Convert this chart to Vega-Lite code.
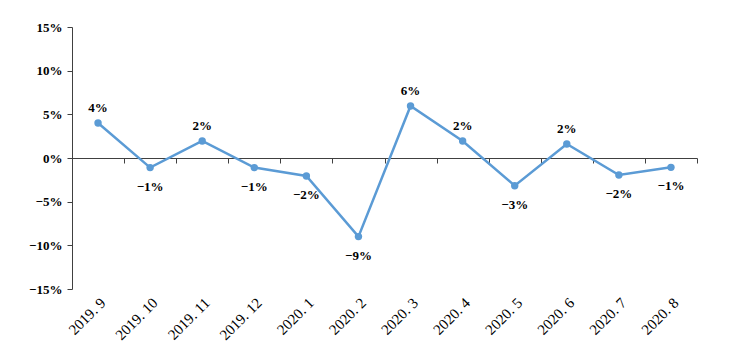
{
  "$schema": "https://vega.github.io/schema/vega-lite/v6.json",
  "width": 625,
  "height": 262,
  "autosize": {"type": "none"},
  "padding": {"left": 72, "top": 27, "right": 51, "bottom": 68},
  "background": "white",
  "config": {"view": {"stroke": null}},
  "data": {"values": [
    {"month": "2019.9", "v": 0.040},
    {"month": "2019.10", "v": -0.011},
    {"month": "2019.11", "v": 0.0195},
    {"month": "2019.12", "v": -0.011},
    {"month": "2020.1", "v": -0.0206},
    {"month": "2020.2", "v": -0.090},
    {"month": "2020.3", "v": 0.0596},
    {"month": "2020.4", "v": 0.0195},
    {"month": "2020.5", "v": -0.0317},
    {"month": "2020.6", "v": 0.016},
    {"month": "2020.7", "v": -0.0195},
    {"month": "2020.8", "v": -0.0107}
  ]},
  "resolve": {"axis": {"x": "independent"}},
  "layer": [
    {
      "mark": {"type": "line", "color": "#5B9BD5", "strokeWidth": 2.5},
      "encoding": {
        "x": {"field": "month", "type": "nominal", "sort": null,
          "scale": {"paddingInner": 0, "paddingOuter": 0},
          "axis": {"orient": "bottom", "offset": -131, "labels": false, "title": null,
            "domain": true, "domainColor": "#404040", "domainWidth": 1.2,
            "ticks": true, "tickBand": "extent", "tickColor": "#404040", "tickSize": 5, "grid": false}},
        "y": {"field": "v", "type": "quantitative",
          "scale": {"domain": [-0.15, 0.15], "nice": false, "zero": false},
          "axis": {"values": [-0.15, -0.1, -0.05, 0, 0.05, 0.1, 0.15], "format": ".0%", "title": null,
            "grid": false, "domainColor": "#404040", "tickColor": "#404040", "tickSize": 5,
            "labelFont": "Liberation Serif", "labelFontWeight": "bold", "labelFontSize": 13,
            "labelColor": "#000000", "labelPadding": 5}}
      }
    },
    {
      "mark": {"type": "point", "filled": true, "color": "#5B9BD5", "size": 55, "opacity": 1},
      "encoding": {
        "x": {"field": "month", "type": "nominal", "sort": null,
          "axis": {"orient": "bottom", "labelAngle": -45, "title": null, "domain": false, "ticks": false,
            "grid": false, "labelFont": "Liberation Serif", "labelFontSize": 15, "labelColor": "#000000",
            "labelPadding": 6, "labelExpr": "replace(datum.label, '.', '. ')"}},
        "y": {"field": "v", "type": "quantitative"}
      }
    },
    {
      "transform": [{"filter": "datum.v >= 0"}],
      "mark": {"type": "text", "font": "Liberation Serif", "fontWeight": "bold", "fontSize": 13, "dy": -15, "color": "#000000"},
      "encoding": {
        "x": {"field": "month", "type": "nominal", "sort": null, "axis": null},
        "y": {"field": "v", "type": "quantitative"},
        "text": {"field": "v", "type": "quantitative", "format": ".0%"}
      }
    },
    {
      "transform": [{"filter": "datum.v < 0"}],
      "mark": {"type": "text", "font": "Liberation Serif", "fontWeight": "bold", "fontSize": 13, "dy": 19, "color": "#000000"},
      "encoding": {
        "x": {"field": "month", "type": "nominal", "sort": null, "axis": null},
        "y": {"field": "v", "type": "quantitative"},
        "text": {"field": "v", "type": "quantitative", "format": ".0%"}
      }
    }
  ]
}
